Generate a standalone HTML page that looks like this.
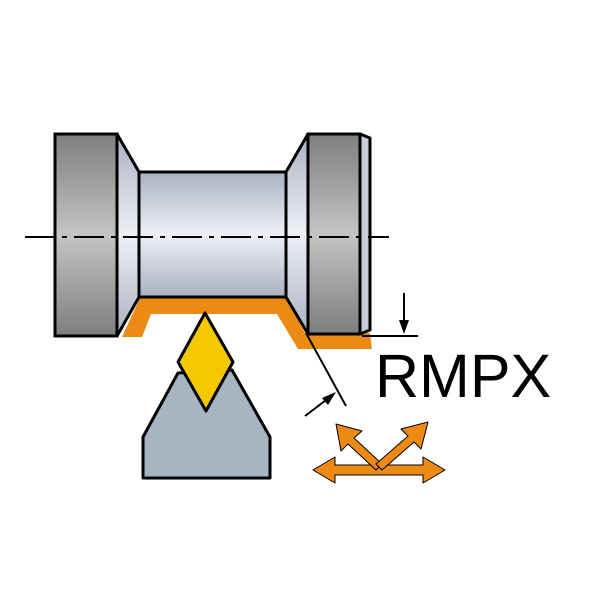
<!DOCTYPE html>
<html><head><meta charset="utf-8"><style>html,body{margin:0;padding:0;background:#fff}svg{display:block}</style></head><body>
<svg width="600" height="600" viewBox="0 0 600 600" xmlns="http://www.w3.org/2000/svg">
<defs>
<linearGradient id="dg" x1="0" y1="0" x2="0" y2="1"><stop offset="0" stop-color="#7e7e7e"/><stop offset="0.5" stop-color="#c4c4c4"/><stop offset="1" stop-color="#7e7e7e"/></linearGradient>
<linearGradient id="lg" x1="0" y1="0" x2="0" y2="1"><stop offset="0" stop-color="#a9b1c0"/><stop offset="0.5" stop-color="#eef0f6"/><stop offset="1" stop-color="#a9b1c0"/></linearGradient>
</defs>
<polygon points="122,337 140,298 286,298 305,333 370,333 372,349 298,349 277,314 151,314 142,337" fill="#ec8a14"/>
<polygon points="117,134 139,172 139,297 117,336" fill="url(#lg)" stroke="#000" stroke-width="3" stroke-linejoin="round"/>
<rect x="139" y="172" width="147" height="125" fill="url(#lg)" stroke="#000" stroke-width="3"/>
<polygon points="286,172 308,134 308,334 286,297" fill="url(#lg)" stroke="#000" stroke-width="3" stroke-linejoin="round"/>
<rect x="55" y="134" width="62" height="202" fill="url(#dg)" stroke="#000" stroke-width="3"/>
<polygon points="360,134 370,138 370,330 360,334" fill="#c8ccd8" stroke="#000" stroke-width="3" stroke-linejoin="round"/>
<rect x="308" y="134" width="52" height="200" fill="url(#dg)" stroke="#000" stroke-width="3"/>
<line x1="25" y1="237" x2="389" y2="237" stroke="#000" stroke-width="2" stroke-dasharray="30,7,5,7"/>
<polygon points="178,373 232,370 270,437 270,478 143,478 143,437" fill="#a7b5c2" stroke="#000" stroke-width="3" stroke-linejoin="round"/>
<polygon points="205,313 233,362 206,411 178,362" fill="#f5c800" stroke="#000" stroke-width="3" stroke-linejoin="round"/>
<line x1="306" y1="333" x2="346" y2="406" stroke="#000" stroke-width="2"/>
<line x1="305" y1="416" x2="330" y2="397" stroke="#000" stroke-width="2"/>
<polygon points="336,392 322,398 328,405" fill="#000"/>
<line x1="362" y1="336" x2="418" y2="336" stroke="#000" stroke-width="2"/>
<line x1="404" y1="293" x2="404" y2="325" stroke="#000" stroke-width="2"/>
<polygon points="404,334 399,320 409,320" fill="#000"/>
<text x="375" y="397" font-family="Liberation Sans, sans-serif" font-size="61" fill="#000">RMPX</text>
<g fill="#ec8a14" stroke="#000" stroke-width="1" stroke-linejoin="round">
<polygon points="313,470 335,457 335,465 423,465 423,457 445,470 423,483 423,475 335,475 335,483"/>
<polygon points="336,424 362,431 354,438 382,464 376,470 348,444 341,451"/>
<polygon points="428,422 421,449 414,442 382,470 376,464 408,436 401,429"/>
</g>
</svg>
</body></html>
